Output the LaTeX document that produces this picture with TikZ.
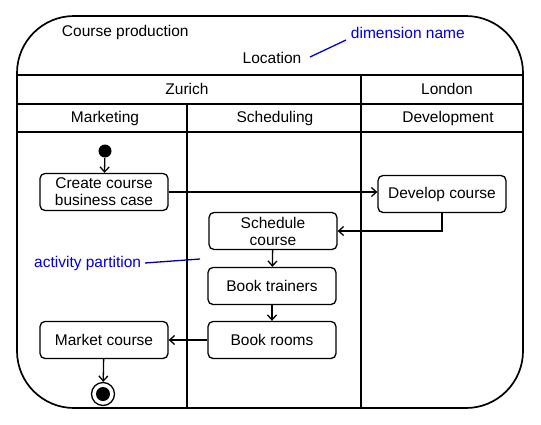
\documentclass[tikz,border=0pt]{standalone}
\usepackage{fontspec}
\setmainfont{Liberation Sans}
\usetikzlibrary{arrows.meta,positioning}

\begin{document}
\begin{tikzpicture}[x=1pt,y=-1pt,>={Straight Barb[length=5pt,width=9pt]},line width=1.3pt,
  action/.style={draw,rounded corners=5pt,minimum width=128pt,minimum height=37pt,
    align=center,inner sep=2pt,font=\fontsize{15.5}{17}\selectfont},
  txt/.style={font=\fontsize{15.5}{17}\selectfont},
  remark/.style={text=blue!85!black,font=\fontsize{15.5}{17}\selectfont}]

  \useasboundingbox[fill=white] (0,0) rectangle (541,424);

  % Frame and partition grid
  \draw[line width=1.7pt,rounded corners=57pt] (17,16) rectangle (523,408);
  \draw (17,75) -- (523,75);
  \draw (17,104) -- (523,104);
  \draw (17,132) -- (523,132);
  \draw (361,75) -- (361,408);
  \draw (187,104) -- (187,408);

  % Headers
  \node[txt,anchor=west] (title) at (58,32) {Course production};
  \node[txt] (location) at (272,58) {Location};
  \node[txt] (zurich) at (187,89) {Zurich};
  \node[txt] (london) at (447,89) {London};
  \node[txt] (marketing) at (105,118) {Marketing};
  \node[txt] (scheduling) at (275,118) {Scheduling};
  \node[txt] (development) at (448,118) {Development};

  % Actions
  \node[circle,fill,minimum size=13pt,inner sep=0pt] (start) at (105,151) {};
  \node[action] (create) at (104,192) {Create course\\business case};
  \node[action] (develop) at (442,194) {Develop course};
  \node[action] (schedule) at (273,231) {Schedule\\course};
  \node[action] (trainers) at (272,286) {Book trainers};
  \node[action] (rooms) at (272,340) {Book rooms};
  \node[action] (market) at (104,340) {Market course};
  \node[circle,draw,minimum size=23pt,inner sep=0pt] (stop) at (103,394) {};
  \fill (stop) circle (7pt);

  % Flow
  \draw[->] (start) -- (create);
  \draw[->] (create.east) -- (create.east -| develop.west);
  \draw[->] (develop.south) |- (schedule.east);
  \draw[->] (schedule) -- (trainers);
  \draw[->] (trainers) -- (rooms);
  \draw[->] (rooms) -- (market);
  \draw[->] (market) -- (stop);

  % Blue remarks
  \node[remark,anchor=west] (dimname) at (347,33) {dimension name};
  \coordinate (dimfoot) at (310,57);
  \draw[blue!85!black] (dimfoot) -- (346,40);
  \node[remark,anchor=east] (partition) at (145,263) {activity partition};
  \coordinate (partfoot) at (200,259);
  \draw[blue!60!black] (partition.east) -- (partfoot);

\end{tikzpicture}
\end{document}
